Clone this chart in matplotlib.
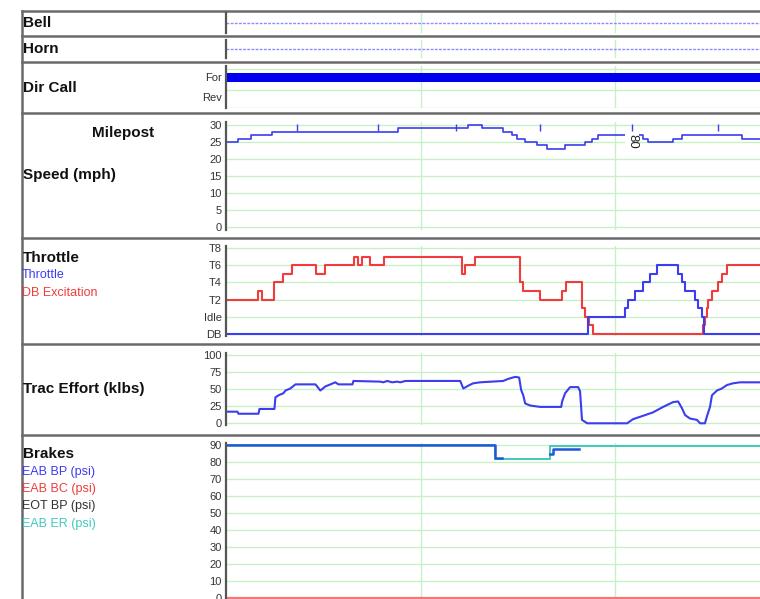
import matplotlib
matplotlib.use('agg')
import numpy as np
import matplotlib.pyplot as plt

plt.rcParams['font.family'] = ['Liberation Sans', 'DejaVu Sans']

# time axis runs 0 .. T_END, green vertical grid at 100 and 200
T_END = 274.5

bell_t = [0, T_END]
bell_v = [0, 0]
horn_t = [0, T_END]
horn_v = [0, 0]
dir_t = [0, T_END]
dir_v = [1, 1]          # 1 = For, 0 = Rev

speed_t = [0, 6.4, 12.6, 23.9, 88.6, 124.5, 131.7, 142.5, 147.1, 149.7, 153.8, 159.8,
           165.0, 174.3, 184.6, 188.2, 191.3, 214.4, 216.9, 229.8, 234.4, 265.2, T_END]
speed_v = [25, 26, 27, 28, 29, 30, 29, 28, 27, 26, 25, 24,
           23, 24, 25, 26, 27, 26, 25, 26, 27, 26, 26]
milepost_t = [36.7, 78.3, 118.4, 161.5, 208.7, 252.9]
milepost_lbl = {208.7: '80'}

# throttle notch: DB=-2, Idle=0, T1..T8 = 1..8
db_t = [0, 16.7, 18.7, 24.9, 29.5, 34.1, 46.5, 51.1, 66.0, 68.0,
        70.1, 74.2, 81.4, 121.4, 123.0, 128.1, 151.2, 152.8, 161.5, 172.8,
        174.8, 183.0, 184.6, 186.7, 188.8, 245.2, 246.2, 247.2, 247.8, 249.8,
        252.9, 254.9, 257.5, T_END]
db_v = [2, 3, 2, 4, 5, 6, 5, 6, 7, 6,
        7, 6, 7, 5, 6, 7, 4, 3, 2, 3,
        4, 1, 0, -1, -2, -1, 0, 1, 2, 3,
        4, 5, 6, 6]
thr_t = [0, 186.2, 205.2, 206.7, 210.3, 214.4, 218.0, 221.6, 232.4, 234.4,
         236.0, 241.1, 242.6, 244.7, 245.7, T_END]
thr_v = [-2, 0, 1, 2, 3, 4, 5, 6, 5, 4, 3, 2, 1, 0, -2, -2]
thr_ticks = [-2, 0, 2, 4, 6, 8]
thr_labels = ['DB', 'Idle', 'T2', 'T4', 'T6', 'T8']

te_t = [0.8, 5.9, 6.4, 16.7, 17.2, 24.9, 25.4, 27.0, 29.5, 30.6, 33.1, 35.7, 46.0,
        48.5, 51.1, 53.7, 56.2, 57.8, 65.0, 65.5, 79.3, 80.8, 82.9, 85.4, 88.0,
        89.6, 92.2, 120.4, 122.0, 124.5, 127.0, 130.6, 142.5, 145.0, 148.7, 150.7,
        151.7, 152.8, 153.8, 156.4, 161.5, 172.3, 172.8, 174.3, 176.9, 181.0, 182.0,
        183.0, 185.7, 206.2, 209.2, 214.4, 219.5, 224.7, 229.8, 232.4, 234.4, 236.0,
        238.5, 242.1, 243.7, 246.2, 247.2, 248.8, 249.8, 252.4, 254.9, 257.5, 260.6,
        264.2, T_END]
te_v = [17, 17, 14, 14, 21, 21, 38, 41, 44, 48, 51, 57, 57,
        48, 54, 57, 60, 57, 57, 62, 61, 60, 62, 60, 61,
        60, 62, 62, 51, 55, 58.5, 60, 62, 65, 68, 67,
        49, 41, 29, 26, 24, 24, 32, 44, 53, 53, 47,
        5, 0, 0, 6, 11, 16, 24, 31, 32, 22, 12,
        7, 5, 0, 0, 10, 24, 41, 48, 51, 56, 58.5,
        60, 60]

bp_t = [0, 138.4, 142.0, 166.6, 168.2, 181.5]
bp_v = [90, 82.5, np.nan, 85, 87.8, np.nan]
bc_t = [0, T_END]
bc_v = [0, 0]
er_t = [0, 138.4, 166.6, T_END]
er_v = [90, 82, 89.5, 89.5]

W, H = 760, 599
fig = plt.figure(figsize=(W / 100, H / 100), dpi=100)

GRID = '#c8f0c8'
SPINE = '#555555'
BLUE = '#3c3cf0'
RED = '#f03c3c'
TEAL = '#40c8c0'


def panel(top, bottom, left=226, right=W):
    ax = fig.add_axes([left / W, 1 - bottom / H, (right - left) / W, (bottom - top) / H])
    ax.set_facecolor('none')
    for s in ('top', 'right', 'bottom'):
        ax.spines[s].set_visible(False)
    ax.spines['left'].set_color(SPINE)
    ax.spines['left'].set_linewidth(1.6)
    ax.set_xlim(0, T_END)
    ax.set_xticks([100, 200])
    ax.tick_params(length=0, labelbottom=False, labelsize=8, labelcolor='#333333', pad=3)
    ax.grid(True, color=GRID, lw=1)
    ax.set_axisbelow(True)
    return ax


def scale(ax, v_hi, y_hi, v_lo, y_lo, top, bottom):
    k = (y_lo - y_hi) / (v_hi - v_lo)
    ax.set_ylim(v_lo - (bottom - y_lo) / k, v_hi + (y_hi - top) / k)


# frame, separators and left-hand labels
ov = fig.add_axes([0, 0, 1, 1], zorder=-1)
ov.set_xlim(0, W)
ov.set_ylim(H, 0)
ov.axis('off')
for y in [10.5, 35.5, 62, 113, 237.5, 343.5, 434.5]:
    ov.plot([22, W], [y, y], color='#6a6a6a', lw=1.8)
ov.plot([22, 22], [10.5, H], color='#6a6a6a', lw=1.8)

hdr = dict(fontsize=11, fontweight='bold', va='center', ha='left', color='#111111')
sub = dict(fontsize=9, va='center', ha='left')
ov.text(23, 23, 'Bell', **hdr)
ov.text(23, 49, 'Horn', **hdr)
ov.text(23, 88, 'Dir Call', **hdr)
ov.text(123, 133, 'Milepost', fontsize=11, fontweight='bold', va='center', ha='center', color='#111111')
ov.text(23, 175, 'Speed (mph)', **hdr)
ov.text(23, 257.5, 'Throttle', **hdr)
ov.text(22, 275.5, 'Throttle', color=BLUE, **sub)
ov.text(22, 292.5, 'DB Excitation', color=RED, **sub)
ov.text(23, 389, 'Trac Effort (klbs)', **hdr)
ov.text(23, 453.5, 'Brakes', **hdr)
ov.text(22, 471.5, 'EAB BP (psi)', color=BLUE, **sub)
ov.text(22, 489, 'EAB BC (psi)', color=RED, **sub)
ov.text(22, 506, 'EOT BP (psi)', color='#333333', **sub)
ov.text(22, 523.5, 'EAB ER (psi)', color=TEAL, **sub)

# Bell / Horn
for top, bottom, t, v in [(13, 33, bell_t, bell_v), (40, 58, horn_t, horn_v)]:
    ax = panel(top, bottom)
    ax.set_yticks([])
    ax.set_ylim(-1, 1)
    ax.plot(t, v, color='#8c8cff', lw=1, ls=(0, (2, 1)))

# Dir Call
ax = panel(66, 108)
scale(ax, 1, 77, 0, 97, 66, 108)
ax.set_yticks([0, 1], ['Rev', 'For'])
ax.grid(axis='y', visible=False)
for g in [1.385, 0.35, -0.54]:
    ax.axhline(g, color=GRID, lw=1, zorder=0)
ax.plot(dir_t, dir_v, color='#0000f0', lw=6.5, solid_capstyle='butt')

# Speed
ax = panel(122, 230)
scale(ax, 30, 125, 0, 227, 122, 230)
ax.set_yticks(range(0, 31, 5))
ax.plot(speed_t, speed_v, drawstyle='steps-post', color=BLUE, lw=1.2)
ax.vlines(milepost_t, 28.1, 30.3, color=BLUE, lw=1)
for t, lbl in milepost_lbl.items():
    ax.annotate(lbl, (t, 28.1), xytext=(0, -2), textcoords='offset points',
                rotation=270, ha='center', va='top', fontsize=9.5, color='#222222',
                bbox=dict(fc='white', ec='none', pad=0.5))

# Throttle
ax = panel(246, 336)
scale(ax, 8, 248, -2, 334, 246, 336)
ax.set_yticks(thr_ticks, thr_labels)
ax.plot(db_t, db_v, drawstyle='steps-post', color=RED, lw=1.5)
ax.plot(thr_t, thr_v, drawstyle='steps-post', color=BLUE, lw=1.5)

# Trac effort
ax = panel(353, 425)
scale(ax, 100, 355, 0, 423.3, 353, 425)
ax.set_yticks([0, 25, 50, 75, 100])
ax.plot(te_t, te_v, color=BLUE, lw=1.5)

# Brakes
ax = panel(443, H)
scale(ax, 90, 445, 0, 598, 443, H)
ax.set_yticks(range(0, 91, 10))
ax.plot(bc_t, bc_v, color='#f07878', lw=1.6, clip_on=False)
ax.plot(er_t, er_v, drawstyle='steps-post', color=TEAL, lw=1.4)
ax.plot(bp_t, bp_v, drawstyle='steps-post', color='#2058d8', lw=1.8)

fig.savefig('out.png', dpi=100)
